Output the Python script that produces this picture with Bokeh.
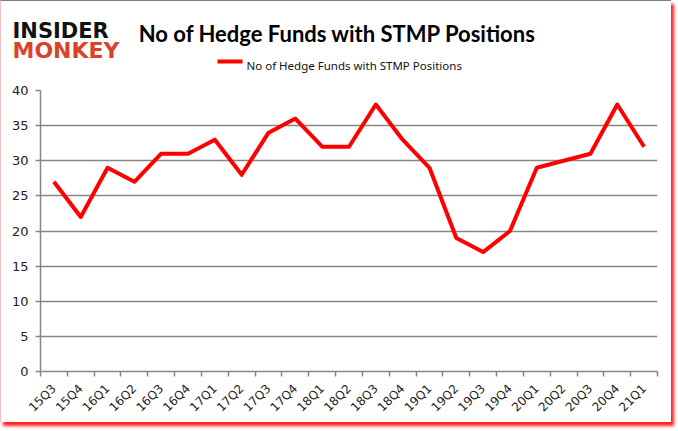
from bokeh.plotting import figure
from bokeh.models import FixedTicker, Range1d
from bokeh.layouts import column, row
from bokeh.core.properties import value
from bokeh.embed import file_html
from bokeh.resources import INLINE
import math

quarters = ["15Q3", "15Q4", "16Q1", "16Q2", "16Q3", "16Q4", "17Q1", "17Q2", "17Q3", "17Q4",
            "18Q1", "18Q2", "18Q3", "18Q4", "19Q1", "19Q2", "19Q3", "19Q4", "20Q1", "20Q2",
            "20Q3", "20Q4", "21Q1"]
funds = [27, 22, 29, 27, 31, 31, 33, 28, 34, 36, 32, 32, 38, 33, 29, 19, 17, 20, 29, 30, 31, 38, 32]
y_ticks = [0, 5, 10, 15, 20, 25, 30, 35, 40]
series_name = "No of Hedge Funds with STMP Positions"
title_text = "No of Hedge Funds with STMP Positions"

W = 670
HEAD_H = 80
MAIN_H = 341

# ---- header (logo, title, legend) ----
h = figure(width=W, height=HEAD_H, output_backend="svg", toolbar_location=None,
           x_range=Range1d(0, W), y_range=Range1d(HEAD_H, 0),
           x_axis_location=None, y_axis_location=None,
           min_border=0, min_border_left=0, min_border_right=0,
           min_border_top=0, min_border_bottom=0)
h.grid.visible = False
h.outline_line_color = None
h.background_fill_color = "white"
h.border_fill_color = "white"

h.text(x=[11], y=[29], text=["INSIDER"], text_font=value("DejaVu Sans"),
       text_font_style="bold", text_font_size="21px", text_color="#111111",
       text_align="left", text_baseline="alphabetic")
h.text(x=[11], y=[49], text=["MONKEY"], text_font=value("DejaVu Sans"),
       text_font_style="bold", text_font_size="22px", text_color="#d9432b",
       text_align="left", text_baseline="alphabetic")
h.text(x=[336], y=[32], text=[title_text], text_font=value("Lato"),
       text_font_style="bold", text_font_size="22px", text_color="#000000",
       text_align="center", text_baseline="alphabetic")
h.line(x=[216, 241], y=[60, 60], line_color="#ff0000", line_width=4)
h.text(x=[245], y=[64], text=[series_name], text_font=value("Noto Sans"),
       text_font_size="11.5px", text_color="#111111",
       text_align="left", text_baseline="alphabetic")

# ---- main chart ----
n = len(quarters)
xs = [i + 0.5 for i in range(n)]

p = figure(width=W, height=MAIN_H, output_backend="svg", toolbar_location=None,
           x_range=Range1d(0, n), y_range=Range1d(0, 40),
           min_border_left=39, min_border_right=14, min_border_top=9, min_border_bottom=51)
p.outline_line_color = None
p.background_fill_color = "white"
p.border_fill_color = "white"

gray = "#868686"
p.xaxis.ticker = FixedTicker(ticks=xs, minor_ticks=list(range(n + 1)))
p.xaxis.major_label_overrides = {x: q for x, q in zip(xs, quarters)}
p.xaxis.major_label_orientation = math.pi / 4
p.xaxis.major_tick_out = 0
p.xaxis.major_tick_in = 0
p.xaxis.minor_tick_out = 5
p.xaxis.minor_tick_in = 0
p.xaxis.minor_tick_line_color = gray
p.xaxis.minor_tick_line_width = 1.5
p.xaxis.axis_line_color = gray
p.xaxis.axis_line_width = 1.5
p.xaxis.major_label_text_font = "DejaVu Sans"
p.xaxis.major_label_text_font_size = "12px"
p.xaxis.major_label_text_color = "#222222"
p.xaxis.major_label_standoff = 10

p.yaxis.ticker = FixedTicker(ticks=y_ticks)
p.yaxis.major_tick_out = 5
p.yaxis.major_tick_in = 0
p.yaxis.minor_tick_line_color = None
p.yaxis.major_tick_line_color = gray
p.yaxis.major_tick_line_width = 1.5
p.yaxis.axis_line_color = gray
p.yaxis.axis_line_width = 1.5
p.yaxis.major_label_text_font = "DejaVu Sans"
p.yaxis.major_label_text_font_size = "13px"
p.yaxis.major_label_text_color = "#222222"
p.yaxis.major_label_standoff = 7

p.xgrid.grid_line_color = None
p.ygrid.ticker = FixedTicker(ticks=y_ticks)
p.ygrid.grid_line_color = gray
p.ygrid.grid_line_width = 1.5

p.line(xs, funds, line_color="#ff0000", line_width=4, line_join="round")

layout = column(row(h), row(p), spacing=0)
layout.styles = {"border-top": "1px solid #7f7f7f", "border-left": "1px solid #f3c0c0",
                 "box-shadow": "3px 4px 3px #ff2020"}

open("out.html", "w").write(file_html(layout, INLINE))
